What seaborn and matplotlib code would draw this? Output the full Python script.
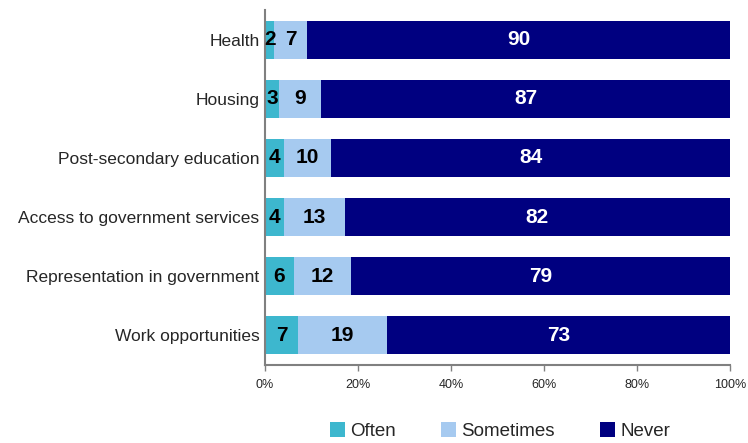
import matplotlib
matplotlib.use("Agg")
import matplotlib.pyplot as plt
import seaborn as sns
import numpy as np
import pandas as pd
from matplotlib.patches import Patch

categories = ["Health", "Housing", "Post-secondary education",
              "Access to government services", "Representation in government",
              "Work opportunities"]
often = [2, 3, 4, 4, 6, 7]
sometimes = [7, 9, 10, 13, 12, 19]
never = [90, 87, 84, 82, 79, 73]
series_names = ["Often", "Sometimes", "Never"]
colors = ["#3DB7CE", "#A6CAF0", "#000080"]
tick_labels = ["0%", "20%", "40%", "60%", "80%", "100%"]

sns.set_theme(style="white")
plt.rcParams["font.family"] = ["Liberation Sans", "DejaVu Sans"]

o = np.array(often, float)
s = np.array(sometimes, float)
n = np.array(never, float)
total = o + s + n
# shares of each response within a row (rows are scaled to 100%)
p_o = o / total * 100
p_s = s / total * 100
p_n = n / total * 100
cum = [p_o, p_o + p_s, p_o + p_s + p_n]

df = pd.DataFrame({"category": categories,
                   "c0": cum[0], "c1": cum[1], "c2": cum[2]})

fig = plt.figure(figsize=(7.48, 4.43), dpi=100)
ax = fig.add_axes([265 / 748, 1 - 365 / 443, 465 / 748, 355 / 443])

# stacked bars drawn as overlapping cumulative totals, widest first
for col, color in zip(["c2", "c1", "c0"], colors[::-1]):
    sns.barplot(data=df, x=col, y="category", color=color, orient="h",
                width=0.64, ax=ax, saturation=1, edgecolor="none")

for i in range(len(categories)):
    starts = [0, cum[0][i], cum[1][i]]
    widths = [p_o[i], p_s[i], p_n[i]]
    vals = [often[i], sometimes[i], never[i]]
    for k in range(3):
        ax.text(starts[k] + widths[k] / 2, i, str(vals[k]),
                ha="center", va="center", fontsize=15, fontweight="bold",
                color="white" if k == 2 else "black")

ax.set_xlim(0, 100)
ax.set_ylim(len(categories) - 0.5, -0.5)
ax.set_xticks([0, 20, 40, 60, 80, 100])
ax.set_xticklabels(tick_labels, fontsize=9)
ax.set_xlabel("")
ax.set_ylabel("")
ax.tick_params(axis="x", direction="out", length=4, width=1, color="#808080",
               bottom=True, pad=6)
ax.tick_params(axis="y", length=0, pad=4, labelsize=12.5)
for side in ["top", "right"]:
    ax.spines[side].set_visible(False)
for side in ["left", "bottom"]:
    ax.spines[side].set_color("#808080")
    ax.spines[side].set_linewidth(1.5)

handles = [Patch(facecolor=c, edgecolor="none", label=l)
           for c, l in zip(colors, series_names)]
fig.legend(handles=handles, loc="center", bbox_to_anchor=(500 / 748, 1 - 431 / 443),
           ncol=3, frameon=False, handlelength=0.8, handleheight=0.8,
           handletextpad=0.3, columnspacing=2.4, fontsize=13.5)

fig.savefig("out.png", dpi=100)
